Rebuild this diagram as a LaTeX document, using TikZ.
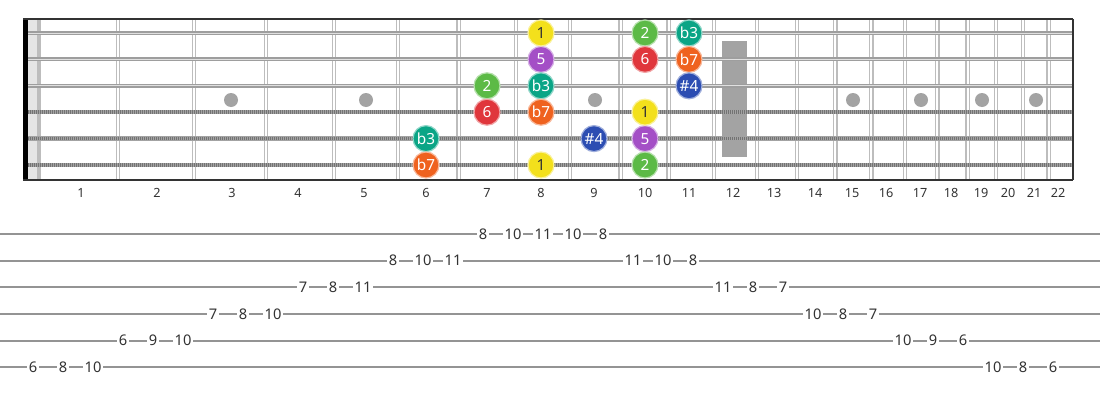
\documentclass[tikz,border=0pt]{standalone}
\usepackage{fontspec}
\setmainfont{Noto Sans}
\definecolor{cOne}{HTML}{F3E01C}
\definecolor{cTwo}{HTML}{5CBA46}
\definecolor{cThr}{HTML}{0AA586}
\definecolor{cFour}{HTML}{2C4DB2}
\definecolor{cFive}{HTML}{A44FC6}
\definecolor{cSix}{HTML}{E0363C}
\definecolor{cSev}{HTML}{EF621F}
\definecolor{fretgray}{HTML}{BDBDBD}
\definecolor{markgray}{HTML}{A3A3A3}
\definecolor{txt}{HTML}{333333}
\begin{document}
\begin{tikzpicture}[x=0.75pt,y=-0.75pt,
  note/.style={circle,minimum size=19.5pt,inner sep=0pt,line width=0.9pt,
    font=\fontsize{11.5}{13}\selectfont,text=white},
  fretnum/.style={font=\fontsize{9.5}{11}\selectfont,text=txt,inner sep=0pt},
  tabnum/.style={font=\fontsize{11}{13}\selectfont,text=txt,fill=white,inner sep=1pt},
  tabline/.style={draw=black!42,line width=1.6pt},
  fretwire/.style={draw=fretgray,line width=0.9pt},
  plainstr/.style={draw=black!38,line width=3pt},
  woundstr/.style={draw=markgray,line width=3.2pt}
]
\useasboundingbox (0,0) rectangle (1100,400);
% board background
\fill[white] (23,19) rectangle (1073,180);
% fret wires
\foreach \fx in {117.8,194.0,266.0,334.0,398.1,458.6,515.7,569.7,620.6,668.6,714.0,756.75,797.1,835.3,871.3,905.2,937.3,967.6,996.1,1023.1,1048.5}{
  \draw[fretwire] (\fx-1.6,19) -- (\fx-1.6,180);
  \draw[fretwire] (\fx+1.6,19) -- (\fx+1.6,180);
}
% nut area
\fill[black!10] (28,19) rectangle (37,180);
\fill[fretgray] (37,19) rectangle (41,180);
\fill[black] (23,19) rectangle (28,180);
% markers
\foreach \mx in {231,366,595,853,921,982,1036}{
  \fill[markgray] (\mx,100) circle[radius=7];
}
\fill[markgray] (722,41) rectangle (747,157);
% strings
\foreach \sy in {33,59.4,85.8}{
  \draw[plainstr] (28,\sy) -- (1073,\sy);
  \draw[draw=black!12,line width=0.7pt] (28,\sy) -- (1073,\sy);
}
\foreach \sy in {112.2,138.6,165}{
  \draw[woundstr] (28,\sy) -- (1073,\sy);
  \draw[draw=black!55,line width=2.6pt,dash pattern=on 0.7pt off 0.8pt] (28,\sy) -- (1073,\sy);
}
% borders
\draw[txt,line width=1.5pt] (23,19) -- (1073,19);
\draw[txt,line width=1.5pt] (23,180) -- (1073,180);
\draw[txt,line width=1.5pt] (1073,19) -- (1073,180);
% fret numbers
\foreach \fx/\fn in {81/1,157/2,232/3,298/4,364/5,426/6,487/7,541/8,594/9,645/10,689/11,733/12,774/13,815/14,852/15,886/16,920/17,951/18,981/19,1008/20,1034/21,1058/22}{
  \node[fretnum] (fn\fn) at (\fx,193) {\fn};
}
% notes
\foreach \nx/\ny/\nc/\nl/\nm in {
  645/33/cTwo/2/a2, 689/33/cThr/b3/a3,
  541/59.4/cFive/5/b1, 645/59.4/cSix/6/b2, 689/59.4/cSev/b7/b3,
  487/85.8/cTwo/2/c1, 541/85.8/cThr/b3/c2, 689/85.8/cFour/\#4/c3,
  487/112.2/cSix/6/d1, 541/112.2/cSev/b7/d2,
  426/138.6/cThr/b3/e1, 594/138.6/cFour/\#4/e2, 645/138.6/cFive/5/e3,
  426/165/cSev/b7/f1, 645/165/cTwo/2/f3}{
  \node[note,fill=\nc,draw=\nc!45!white] (n\nm) at (\nx,\ny) {\nl};
}
\foreach \nx/\ny/\nm in {541/33/a1, 645/112.2/d3, 541/165/f2}{
  \node[note,fill=cOne,draw=cOne!45!white,text=txt] (n\nm) at (\nx,\ny) {1};
}
% tab lines
\foreach \ty in {234,260.7,287.3,314,340.7,367.3}{
  \draw[tabline] (0,\ty) -- (1100,\ty);
}
% tab numbers
\foreach \k/\ty/\v in {
  15/234/8,16/234/10,17/234/11,18/234/10,19/234/8,
  12/260.7/8,13/260.7/10,14/260.7/11,20/260.7/11,21/260.7/10,22/260.7/8,
  9/287.3/7,10/287.3/8,11/287.3/11,23/287.3/11,24/287.3/8,25/287.3/7,
  6/314/7,7/314/8,8/314/10,26/314/10,27/314/8,28/314/7,
  3/340.7/6,4/340.7/9,5/340.7/10,29/340.7/10,30/340.7/9,31/340.7/6,
  0/367.3/6,1/367.3/8,2/367.3/10,32/367.3/10,33/367.3/8,34/367.3/6}{
  \node[tabnum] (tab\k) at (33+30*\k,\ty) {\v};
}
\end{tikzpicture}
\end{document}
